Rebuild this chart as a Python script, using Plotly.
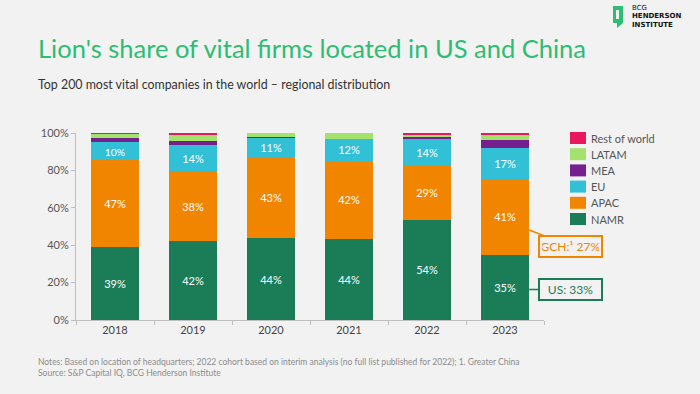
import plotly.graph_objects as go

years = ["2018", "2019", "2020", "2021", "2022", "2023"]
namr = [38.8, 42.0, 43.6, 43.5, 53.5, 34.7]
apac = [46.5, 37.5, 43.4, 41.5, 29.4, 40.8]
eu = [9.8, 13.9, 10.5, 11.9, 13.8, 16.7]
mea = [2.2, 2.5, 0.6, 0.0, 1.4, 4.3]
latam = [2.2, 2.8, 1.9, 3.1, 0.9, 2.9]
rest = [0.5, 1.3, 0.0, 0.0, 1.0, 0.6]
y_ticks = [0, 20, 40, 60, 80, 100]
y_tick_labels = ["0%", "20%", "40%", "60%", "80%", "100%"]
gch_label = "GCH:¹ 27%"
us_label = "US: 33%"

BG = "#f2f2f2"
FONT = "Lato"
W, H = 700, 394
ML, MR, MT, MB = 76, 156, 133, 74
PW, PH = W - ML - MR, H - MT - MB


def px(x):
    return (x - ML) / PW


def py(y):
    return (H - MB - y) / PH


series = [
    ("NAMR", namr, "#1b7d58", True),
    ("APAC", apac, "#f28500", True),
    ("EU", eu, "#31c0d6", True),
    ("MEA", mea, "#74208f", False),
    ("LATAM", latam, "#a2e26d", False),
    ("Rest of world", rest, "#e8185e", False),
]

fig = go.Figure()
for name, vals, color, labelled in series:
    fig.add_trace(go.Bar(
        x=years, y=vals, name=name,
        marker=dict(color=color, line=dict(width=0)),
        texttemplate="%{y:.0f}%" if labelled else None,
        textposition="inside" if labelled else "none",
        insidetextanchor="middle",
        textangle=0,
        textfont=dict(color="white", size=11, family=FONT),
        hoverinfo="skip",
        showlegend=False,
    ))

fig.update_layout(
    width=W, height=H,
    paper_bgcolor=BG, plot_bgcolor=BG,
    barmode="stack", bargap=0.385,
    margin=dict(l=ML, r=MR, t=MT, b=MB, autoexpand=False),
    font=dict(family=FONT, color="#555555", size=11),
    showlegend=False,
    xaxis=dict(
        range=[-0.5, 5.5], autorange=False,
        showline=True, linecolor="#bfbfbf", linewidth=1,
        ticks="outside", tickson="boundaries", ticklen=4, tickcolor="#bfbfbf",
        tickfont=dict(size=11, color="#444444"),
        showgrid=False, zeroline=False,
    ),
    yaxis=dict(
        range=[0, 100], autorange=False, tickvals=y_ticks, ticktext=y_tick_labels,
        showline=True, linecolor="#bfbfbf", linewidth=1,
        ticks="outside", ticklen=4, tickcolor="#bfbfbf",
        tickfont=dict(size=11, color="#555555"),
        showgrid=False, zeroline=False,
    ),
)

# manual legend (top item = Rest of world)
for i, (name, vals, color, labelled) in enumerate(reversed(series)):
    top = 132 + 16.2 * i
    fig.add_shape(type="rect", xref="paper", yref="paper",
                  x0=px(570), x1=px(586), y0=py(top + 12), y1=py(top),
                  fillcolor=color, line=dict(width=0))
    fig.add_annotation(xref="paper", yref="paper", x=px(589), y=py(top + 6),
                       xanchor="left", yanchor="middle", text=name, showarrow=False,
                       font=dict(size=11, color="#555555", family=FONT))

# title & subtitle
fig.add_annotation(xref="paper", yref="paper", x=px(36), y=py(65), xanchor="left", yanchor="bottom",
                   text="Lion's share of vital firms located in US and China", showarrow=False,
                   font=dict(size=25.5, color="#2dbd73", family=FONT))
fig.add_annotation(xref="paper", yref="paper", x=px(36), y=py(94), xanchor="left", yanchor="bottom",
                   text="Top 200 most vital companies in the world – regional distribution", showarrow=False,
                   font=dict(size=12.4, color="#333333", family=FONT))

# callouts
fig.add_annotation(x=5.31, y=48.1, xref="x", yref="y", text=gch_label, showarrow=True,
                   arrowhead=0, arrowwidth=1.5, arrowcolor="#f28500",
                   axref="pixel", ayref="pixel", ax=41.5, ay=16,
                   font=dict(size=12, color="#f28500", family=FONT),
                   bordercolor="#f28500", borderwidth=2, borderpad=2, bgcolor=BG, width=57)
fig.add_annotation(x=5.31, y=16.3, xref="x", yref="y", text=us_label, showarrow=True,
                   arrowhead=0, arrowwidth=1.5, arrowcolor="#1b7d58",
                   axref="pixel", ayref="pixel", ax=41.5, ay=0,
                   font=dict(size=12, color="#1b7d58", family=FONT),
                   bordercolor="#1b7d58", borderwidth=2, borderpad=2, bgcolor=BG, width=57)

# notes
fig.add_annotation(xref="paper", yref="paper", x=px(36), y=py(355), xanchor="left", yanchor="top",
                   text="Notes: Based on location of headquarters; 2022 cohort based on interim analysis (no full list published for 2022); 1. Greater China<br>Source: S&P Capital IQ, BCG Henderson Institute",
                   showarrow=False, align="left",
                   font=dict(size=8.5, color="#8c8c8c", family=FONT))

# logo
fig.add_shape(type="path", xref="paper", yref="paper",
              path=(f"M {px(613)} {py(6)} L {px(623)} {py(6)} L {px(623)} {py(23)} "
                    f"L {px(617)} {py(28)} L {px(617)} {py(23)} L {px(613)} {py(23)} Z"),
              fillcolor="#2dbd73", line=dict(width=0))
fig.add_shape(type="rect", xref="paper", yref="paper",
              x0=px(616), x1=px(619), y0=py(19), y1=py(10),
              fillcolor=BG, line=dict(width=0))
for txt, yc, bold in [("BCG", 7.5, False), ("HENDERSON", 16.5, True), ("INSTITUTE", 25.5, True)]:
    fig.add_annotation(xref="paper", yref="paper", x=px(631), y=py(yc), xanchor="left", yanchor="middle",
                       text=f"<b>{txt}</b>" if bold else txt, showarrow=False, borderpad=0,
                       font=dict(size=7, color="#111111", family="DejaVu Sans"))

fig.write_html("out.html",
               config={"displayModeBar": False},
               post_script="document.body.style.margin='0';document.body.style.background='#f2f2f2';")
